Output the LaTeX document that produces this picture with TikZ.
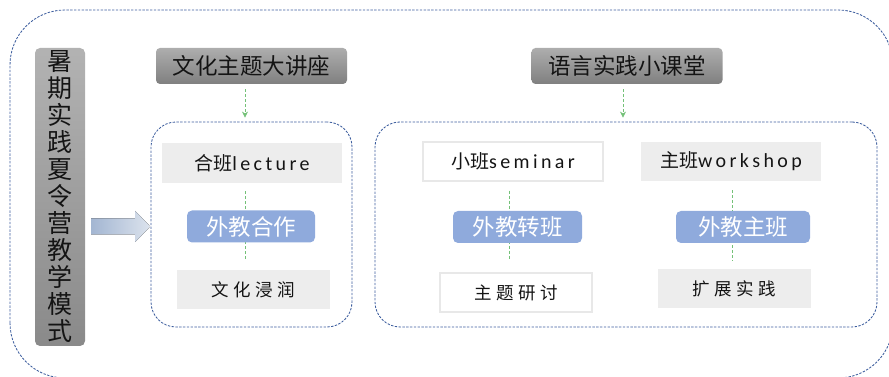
\documentclass[tikz,border=0pt]{standalone}
\usepackage{fontspec}
\setmainfont{Noto Sans CJK SC}
\newfontfamily\latinfont{Carlito}
\usetikzlibrary{positioning,arrows.meta,calc}
\definecolor{frameblue}{HTML}{3D5E9E}
\definecolor{tipgreen}{HTML}{74C178}
\definecolor{boxgray}{HTML}{EDEDED}
\definecolor{teachblue}{HTML}{8FAADC}
\definecolor{arrowdark}{HTML}{A3B6D2}
\definecolor{arrowlight}{HTML}{DCE3ED}
\tikzset{>={Stealth[length=6pt,width=6pt]}}
\tikzset{
  frame/.style={draw=frameblue, line width=0.85pt, dash pattern=on 2.4pt off 1.4pt},
  title/.style={rounded corners=4pt, top color=black!32, bottom color=black!50,
    minimum width=191pt, minimum height=36pt, inner sep=0pt,
    font=\fontsize{22.5}{22.5}\selectfont, text=black!92},
  graybox/.style={fill=boxgray, minimum width=153pt, minimum height=39pt, inner sep=0pt,
    font=\fontsize{17.5}{17.5}\selectfont\addfontfeature{LetterSpace=26}, text=black!92},
  whitebox/.style={graybox, fill=white, draw=black!9, line width=1.2pt},
  teacher/.style={fill=teachblue, rounded corners=5pt, minimum height=32pt, inner sep=0pt,
    font=\fontsize{22.5}{22.5}\selectfont, text=white},
  link/.style={tipgreen, line width=0.7pt, dash pattern=on 3pt off 2pt},
}
\newcommand{\spaced}[1]{{\latinfont\fontsize{20}{20}\selectfont\addfontfeature{LetterSpace=17}#1}}

\begin{document}
\begin{tikzpicture}[x=1pt, y=1pt]
  \useasboundingbox (0,0) rectangle (889,377);
  \draw[frame, rounded corners=55pt] (10,-1) rectangle (893,367); % outer frame

  % left label
  \node[rounded corners=5pt, top color=black!30, bottom color=black!46,
        minimum width=50pt, minimum height=298pt, inner sep=0pt, align=center,
        font=\fontsize{25}{27}\selectfont, text=black!92]
        (mode) at (60,180) {暑\\期\\实\\践\\夏\\令\\营\\教\\学\\模\\式};
  \coordinate (arr) at ($(mode.east)+(6,-29.5)$);
  \fill[left color=arrowdark, right color=arrowlight]
    (arr) -- ++(0,8) -- ++(44,0) -- ++(0,7.5) -- ++(15,-15.5)
    -- ++(-15,-15.5) -- ++(0,7.5) -- ++(-44,0) -- cycle;

  % titles and groups
  \node[title] (lect) at (251.5,311) {文化主题大讲座};
  \node[title] (prac) at (627,311) {语言实践小课堂};
  \node[frame, rounded corners=25pt, minimum width=201pt, minimum height=205pt]
        (grpA) at (251.5,152.5) {};
  \node[frame, rounded corners=25pt, minimum width=502pt, minimum height=205pt]
        (grpB) at (626,152.5) {};

  % boxes
  \node[graybox, minimum width=180pt, minimum height=40pt,
        font=\fontsize{19}{19}\selectfont, text=black!92] (lecture) at (252,214) {合班\spaced{lecture}};
  \node[graybox] (culture) at (253.5,87.5) {文化浸润};
  \node[whitebox, minimum width=180pt, font=\fontsize{19}{19}\selectfont]
        (seminar) at (513,215.5) {小班\spaced{seminar}};
  \node[whitebox, minimum width=152pt] (topic) at (516,84.5) {主题研讨};
  \node[graybox, minimum width=180pt, font=\fontsize{19}{19}\selectfont]
        (workshop) at (731,215.5) {主班\spaced{workshop}};
  \node[graybox] (extend) at (734.5,88.5) {扩展实践};

  % green dashed links
  \path[->, link]
    ([xshift=-6.5pt]lect.south) edge[shorten <=5pt, shorten >=4pt] ([xshift=-6.5pt]lect.south |- grpA.north)
    ([xshift=-4pt]prac.south) edge[shorten <=5pt, shorten >=4pt] ([xshift=-4pt]prac.south |- grpB.north);
  \draw[link, shorten <=8pt, shorten >=10pt] ([xshift=-7pt]lecture.south) -- ([xshift=-7pt]lecture.south |- culture.north);
  \draw[link, shorten <=9pt, shorten >=12pt] ([xshift=-4pt]seminar.south) -- ([xshift=-4pt]seminar.south |- topic.north);
  \draw[link, shorten <=9pt, shorten >=8pt] ([xshift=1pt]workshop.south) -- ([xshift=1pt]workshop.south |- extend.north);

  % foreign teachers
  \node[teacher, minimum width=128pt] (coop) at (251,150.5) {外教合作};
  \node[teacher, minimum width=129pt] (switch) at (517.5,150) {外教转班};
  \node[teacher, minimum width=134pt] (lead) at (743,150) {外教主班};
\end{tikzpicture}
\end{document}
